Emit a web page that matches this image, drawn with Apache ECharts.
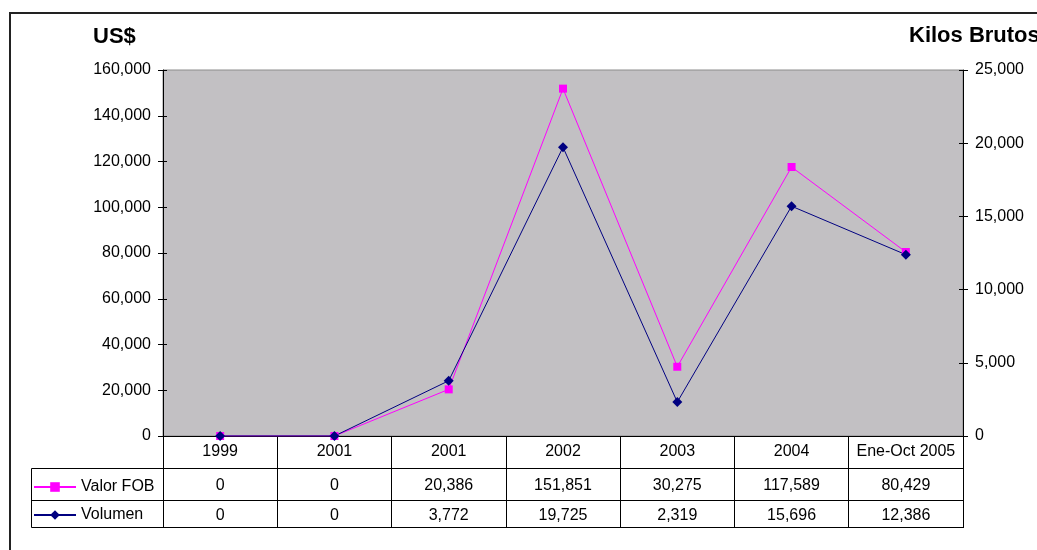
<!DOCTYPE html>
<html>
<head>
<meta charset="utf-8">
<title>Valor FOB y Volumen</title>
<script src="https://cdn.jsdelivr.net/npm/echarts@6.0.0/dist/echarts.min.js"></script>
<style>
    html, body { margin: 0; padding: 0; background: #fff; }
    #main { width: 1037px; height: 550px; }
</style>
</head>
<body>
<div id="main"></div>
<script>
// datos del grafico
var categories = ['1999', '2001', '2001', '2002', '2003', '2004', 'Ene-Oct 2005'];
var valorFob = [0, 0, 20386, 151851, 30275, 117589, 80429];
var volumen = [0, 0, 3772, 19725, 2319, 15696, 12386];
// ejes
var usTicks = [0, 20000, 40000, 60000, 80000, 100000, 120000, 140000, 160000];
var kgTicks = [0, 5000, 10000, 15000, 20000, 25000];

var FONT = "'Liberation Sans', Arial, sans-serif";

function fmt(v) {
    return Number(v).toLocaleString('en-US');
}

function yAx(ticks, pos, labels) {
    return {
        type: 'value',
        position: pos,
        min: ticks[0],
        max: ticks[ticks.length - 1],
        interval: ticks[1] - ticks[0],
        splitLine: { show: false },
        axisLine: { show: labels, lineStyle: { color: '#000', width: 1 } },
        axisTick: { show: true, inside: !labels, length: labels ? 5 : 4, lineStyle: { color: '#000' } },
        axisLabel: {
            show: labels, margin: 12, formatter: fmt,
            color: '#000', fontSize: 16, fontFamily: FONT
        }
    };
}

// la tabla de datos se arma con tres ejes de categorias apilados
function xAx(data, offset, tickLen, margin) {
    return {
        type: 'category',
        position: 'bottom',
        offset: offset,
        data: data,
        boundaryGap: true,
        axisLine: { show: true, onZero: false, lineStyle: { color: '#000', width: 1 } },
        axisTick: { show: true, interval: 0, length: tickLen, lineStyle: { color: '#000' } },
        axisLabel: {
            interval: 0, margin: margin,
            color: '#000', fontSize: 16, fontFamily: FONT
        },
        splitLine: { show: false }
    };
}

var myChart = echarts.init(document.getElementById('main'), null, { renderer: 'canvas' });

var option = {
    animation: false,
    backgroundColor: '#fff',
    textStyle: { fontFamily: FONT },
    grid: {
        left: 163, right: 74, top: 70, bottom: 114,
        show: true,
        backgroundColor: '#c2c0c3',
        borderColor: '#8c8c8c',
        borderWidth: 1,
        containLabel: false,
        outerBoundsMode: 'none'
    },
    legend: {
        orient: 'vertical',
        left: 33, top: 479,
        padding: 0,
        itemWidth: 42, itemHeight: 12, itemGap: 12,
        textStyle: { color: '#000', fontSize: 16, fontFamily: FONT },
        data: ['Valor FOB', 'Volumen']
    },
    xAxis: [
        xAx(categories, 0, 32, 8),
        xAx(valorFob.map(fmt), 32, 32, 10),
        xAx(volumen.map(fmt), 64, 28, 8)
    ],
    yAxis: [
        yAx(usTicks, 'left', true),
        yAx(kgTicks, 'right', true),
        yAx(usTicks, 'left', false),
        yAx(kgTicks, 'right', false)
    ],
    series: [
        {
            name: 'Valor FOB',
            type: 'line',
            xAxisIndex: 0,
            yAxisIndex: 0,
            data: valorFob,
            symbol: 'rect',
            symbolSize: 8,
            showAllSymbol: true,
            color: '#ff00ff',
            lineStyle: { color: '#ff00ff', width: 1 },
            itemStyle: { color: '#ff00ff' }
        },
        {
            name: 'Volumen',
            type: 'line',
            xAxisIndex: 0,
            yAxisIndex: 1,
            data: volumen,
            symbol: 'diamond',
            symbolSize: 10,
            showAllSymbol: true,
            color: '#000080',
            lineStyle: { color: '#000080', width: 1 },
            itemStyle: { color: '#000080' }
        }
    ],
    graphic: [
        // marco exterior
        { type: 'line', shape: { x1: 9, y1: 13, x2: 1037, y2: 13 }, style: { stroke: '#222', lineWidth: 2 } },
        { type: 'line', shape: { x1: 10, y1: 13, x2: 10, y2: 550 }, style: { stroke: '#222', lineWidth: 2 } },
        // tabla de datos: columna de leyenda y borde inferior
        { type: 'rect', shape: { x: 31.5, y: 468.5, width: 132, height: 59 }, style: { fill: null, stroke: '#000', lineWidth: 1 } },
        { type: 'line', shape: { x1: 31, y1: 500.5, x2: 163, y2: 500.5 }, style: { stroke: '#000', lineWidth: 1 } },
        { type: 'line', shape: { x1: 163, y1: 527.5, x2: 963, y2: 527.5 }, style: { stroke: '#000', lineWidth: 1 } },
        // titulos de ejes
        { type: 'text', left: 93, top: 26, style: { text: 'US$', fill: '#000', font: 'bold 22px ' + FONT } },
        { type: 'text', left: 909, top: 25, style: { text: 'Kilos Brutos', fill: '#000', font: 'bold 22px ' + FONT } }
    ]
};

myChart.setOption(option);
</script>
</body>
</html>
